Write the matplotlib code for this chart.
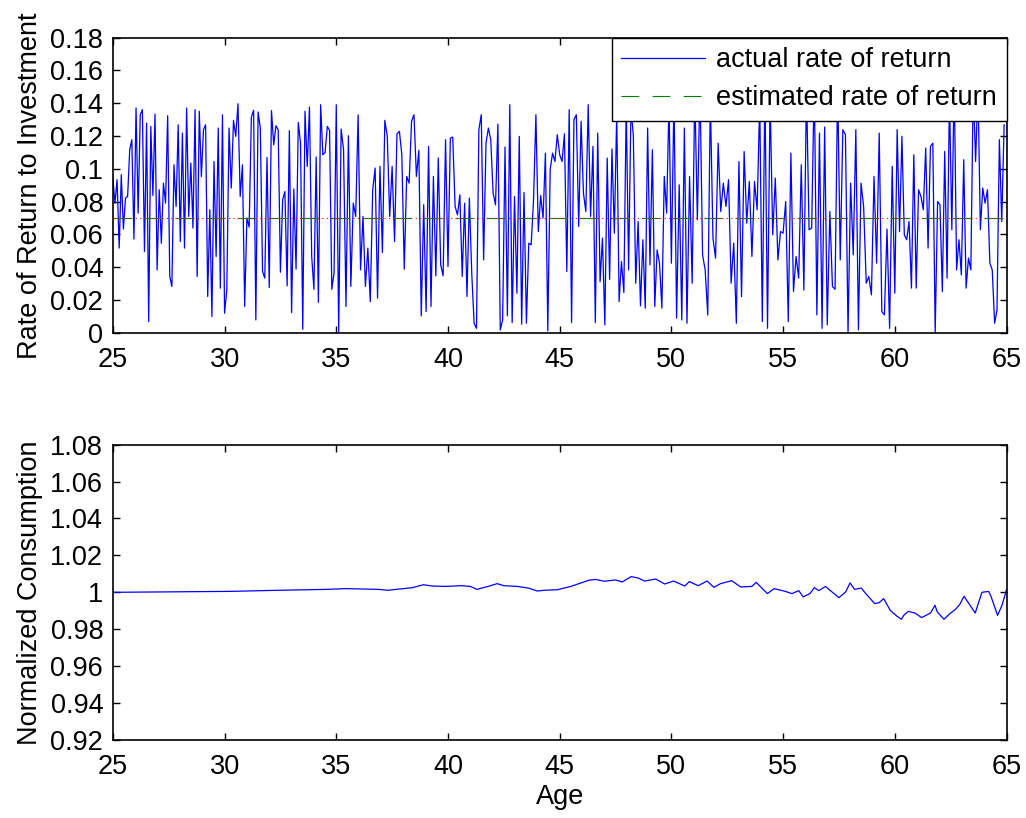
import numpy as np
import matplotlib
matplotlib.use("Agg")
import matplotlib.pyplot as plt
from matplotlib.ticker import FormatStrFormatter

plt.rcParams['font.family'] = ['Liberation Sans', 'DejaVu Sans']

# rate of return, one list per 5-year span
rate_25_30 = [0.0944, 0.0791, 0.0934, 0.0517, 0.0964, 0.0633, 0.0822, 0.0832, 0.1117, 0.1178,
              0.0572, 0.1371, 0.0730, 0.1330, 0.1361, 0.0496, 0.1279, 0.0069, 0.1259, 0.0838,
              0.1334, 0.0384, 0.0873, 0.0547, 0.0913, 0.0791, 0.1324, 0.0344, 0.0283, 0.1025,
              0.0771, 0.1269, 0.0557, 0.1218, 0.0517, 0.1371, 0.0710, 0.1035, 0.0639, 0.1361,
              0.0344, 0.1351, 0.0954, 0.1239, 0.1269, 0.0222, 0.0751, 0.0100, 0.1045, 0.0466,
              0.1249, 0.0273, 0.1330]
rate_30_35 = [0.0120, 0.0262, 0.1249, 0.0883, 0.1296, 0.1198, 0.1397, 0.0832, 0.1025, 0.0161,
              0.0700, 0.0645, 0.1316, 0.1357, 0.0079, 0.1347, 0.1249, 0.0374, 0.0334, 0.1070,
              0.0277, 0.1355, 0.1147, 0.1263, 0.1239, 0.0370, 0.0812, 0.0862, 0.0287, 0.1233,
              0.0124, 0.0877, 0.0389, 0.1283, 0.1157, 0.0022, 0.1351, 0.1015, 0.1377, 0.0466,
              0.0266, 0.1072, 0.0187, 0.1391, 0.1086, 0.1100, 0.1259, 0.1235, 0.0266, 0.0364]
rate_35_40 = [0.1391, 0.0008, 0.1243, 0.1117, 0.0161, 0.1202, 0.0283, 0.0791, 0.0710, 0.1330,
              0.0384, 0.0710, 0.0283, 0.0517, 0.0191, 0.0873, 0.1005, 0.0212, 0.1015, 0.0490,
              0.1296, 0.1198, 0.0710, 0.1015, 0.0557, 0.1214, 0.1229, 0.1086, 0.0389, 0.0954,
              0.0913, 0.1290, 0.1330, 0.0954, 0.1113, 0.0104, 0.0781, 0.0130, 0.1137, 0.0161,
              0.0954, 0.0348, 0.1066, 0.0415, 0.0348, 0.1178]
rate_40_45 = [0.0405, 0.1188, 0.1194, 0.0771, 0.0720, 0.0842, 0.0344, 0.0791, 0.0222, 0.0822,
              0.0364, 0.0059, 0.0028, 0.1239, 0.1330, 0.0445, 0.1157, 0.1249, 0.1178, 0.0852,
              0.0781, 0.1273, 0.0018, 0.0079, 0.1133, 0.0104, 0.1391, 0.0063, 0.0832, 0.0242,
              0.1198, 0.0053, 0.0856, 0.0059, 0.0547, 0.0537, 0.0812, 0.1330, 0.0618, 0.0838,
              0.0700, 0.1096, 0.0012, 0.0995, 0.1096, 0.1045, 0.1208]
rate_45_50 = [0.1086, 0.1045, 0.1214, 0.0374, 0.1361, 0.0063, 0.1300, 0.1330, 0.0649, 0.1290,
              0.0852, 0.0740, 0.1391, 0.0710, 0.1137, 0.0063, 0.1218, 0.0313, 0.0578, 0.0049,
              0.1066, 0.0327, 0.1121, 0.0608, 0.1340, 0.0191, 0.0435, 0.0246, 0.1400, 0.0384,
              0.1380, 0.1198, 0.0303, 0.0679, 0.0165, 0.0568, 0.0151, 0.1249, 0.0415, 0.1117,
              0.0161, 0.0506, 0.0425, 0.0151, 0.0954, 0.0730, 0.1420]
rate_50_55 = [0.0425, 0.1450, 0.0090, 0.0903, 0.0079, 0.1249, 0.0059, 0.0954, 0.0303, 0.1480,
              0.0690, 0.1520, 0.0476, 0.0384, 0.0110, 0.1430, 0.0578, 0.0456, 0.1157, 0.0740,
              0.0913, 0.0771, 0.0934, 0.0303, 0.0547, 0.0059, 0.1045, 0.0222, 0.1106, 0.0669,
              0.0923, 0.0466, 0.0923, 0.0751, 0.1410, 0.0069, 0.1500, 0.0028, 0.1440, 0.0598,
              0.0944, 0.0445, 0.0618]
rate_55_60 = [0.0608, 0.0801, 0.0069, 0.1096, 0.0252, 0.0466, 0.0334, 0.1025, 0.0262, 0.1500,
              0.0629, 0.0639, 0.1550, 0.0110, 0.1218, 0.0028, 0.1255, 0.0049, 0.0740, 0.0283,
              0.0266, 0.1520, 0.0445, 0.1239, 0.1208, 0.0002, 0.0913, 0.0476, 0.1239, 0.0018,
              0.0913, 0.0771, 0.0303, 0.0344, 0.0232, 0.0954, 0.0425, 0.1218, 0.0130, 0.0110,
              0.0633, 0.0028, 0.1015]
rate_60_65 = [0.0242, 0.1239, 0.0618, 0.1198, 0.0598, 0.0568, 0.0679, 0.0273, 0.1086, 0.0273,
              0.0873, 0.0832, 0.0751, 0.1127, 0.0517, 0.1137, 0.1157, 0.0002, 0.0801, 0.0781,
              0.0252, 0.1106, 0.0334, 0.1450, 0.0629, 0.1550, 0.0384, 0.0568, 0.0354, 0.1056,
              0.0273, 0.0456, 0.0384, 0.1500, 0.1045, 0.1500, 0.0629, 0.0883, 0.0791, 0.0873,
              0.0425, 0.0384, 0.0059, 0.0140, 0.1178, 0.0679, 0.1269]

rate_segments = [rate_25_30, rate_30_35, rate_35_40, rate_40_45,
                 rate_45_50, rate_50_55, rate_55_60, rate_60_65]
segment_starts = [25, 30, 35, 40, 45, 50, 55, 60]
segment_span = 5

estimated_rate = 0.07

# normalized consumption
cons_age = [25.0, 30.2, 32.4, 34.6, 35.4, 36.9, 37.3, 38.4, 38.9, 39.3, 39.9, 40.6, 41.0, 41.3,
            41.8, 42.2, 42.5, 43.1, 43.6, 44.0, 44.3, 44.9, 45.5, 46.3, 46.6, 47.0, 47.5, 47.8,
            48.2, 48.5, 48.8, 49.3, 49.7, 50.1, 50.6, 50.8, 51.2, 51.6, 51.9, 52.2, 52.7, 53.1,
            53.6, 53.8, 54.0, 54.3, 54.6, 55.1, 55.4, 55.7, 55.9, 56.2, 56.4, 56.6, 56.9, 57.1,
            57.5, 57.8, 58.0, 58.2, 58.5, 58.7, 59.1, 59.3, 59.5, 59.8, 60.1, 60.3, 60.4, 60.6,
            60.9, 61.2, 61.6, 61.8, 61.9, 62.2, 62.5, 62.7, 62.9, 63.1, 63.3, 63.6, 63.9, 64.2,
            64.3, 64.6, 64.8, 65.0]
cons_value = [1.0000, 1.0005, 1.0011, 1.0016, 1.0020, 1.0016, 1.0011, 1.0025, 1.0041, 1.0034,
              1.0032, 1.0036, 1.0032, 1.0016, 1.0032, 1.0047, 1.0036, 1.0032, 1.0023, 1.0007,
              1.0011, 1.0014, 1.0032, 1.0065, 1.0070, 1.0060, 1.0067, 1.0056, 1.0085, 1.0078,
              1.0061, 1.0072, 1.0045, 1.0061, 1.0034, 1.0058, 1.0036, 1.0061, 1.0027, 1.0047,
              1.0063, 1.0029, 1.0032, 1.0054, 1.0029, 0.9993, 1.0020, 1.0005, 0.9993, 1.0009,
              0.9975, 0.9993, 1.0025, 1.0009, 1.0032, 1.0011, 0.9971, 1.0002, 1.0051, 1.0016,
              1.0023, 0.9993, 0.9939, 0.9944, 0.9966, 0.9902, 0.9870, 0.9854, 0.9875, 0.9897,
              0.9888, 0.9863, 0.9888, 0.9930, 0.9894, 0.9854, 0.9888, 0.9906, 0.9933, 0.9978,
              0.9942, 0.9888, 1.0000, 1.0005, 0.9980, 0.9875, 0.9930, 1.0014]

# ages for the rate series: spread each segment evenly over its span
rate_age = []
rate_value = []
for start, seg in zip(segment_starts, rate_segments):
  rate_age.extend(np.linspace(start, start + segment_span, len(seg), endpoint=False))
  rate_value.extend(seg)
rate_age = np.array(rate_age)
rate_value = np.array(rate_value)

fs = 19.5

fig = plt.figure(figsize=(10.26, 8.18), dpi=100)
ax1 = fig.add_axes([0.110, 0.593, 0.871, 0.361])
ax2 = fig.add_axes([0.110, 0.0954, 0.871, 0.361])

ax1.plot(rate_age, rate_value, '-', color='#0000FF', lw=0.9, label='actual rate of return')
ax1.plot([25, 65], [estimated_rate, estimated_rate], color='#008000', lw=0.8,
         dashes=(16, 12), label='estimated rate of return')
ax1.plot([25, 65], [estimated_rate, estimated_rate], color='#FF0000', lw=0.8,
         dashes=(1, 3), zorder=3)
ax1.set_xlim(25, 65)
ax1.set_ylim(0, 0.18)
ax1.set_xticks(np.arange(25, 66, 5))
ax1.set_yticks(np.arange(0, 0.181, 0.02))
ax1.yaxis.set_major_formatter(FormatStrFormatter('%g'))
ax1.set_ylabel('Rate of Return to Investment', fontsize=fs, labelpad=5)
leg = ax1.legend(loc='upper right', fontsize=fs, fancybox=False, framealpha=1,
                 edgecolor='black', borderaxespad=0, handlelength=3.1, borderpad=0.35,
                 labelspacing=0.45, handletextpad=0.4)
leg.get_frame().set_linewidth(1.0)
leg.set_zorder(10)

ax2.plot(cons_age, cons_value, '-', color='#0000FF', lw=0.9)
ax2.set_xlim(25, 65)
ax2.set_ylim(0.92, 1.08)
ax2.set_xticks(np.arange(25, 66, 5))
ax2.set_yticks(np.arange(0.92, 1.081, 0.02))
ax2.yaxis.set_major_formatter(FormatStrFormatter('%g'))
ax2.set_ylabel('Normalized Consumption', fontsize=fs, labelpad=5)
ax2.set_xlabel('Age', fontsize=fs, labelpad=3)

for ax in (ax1, ax2):
  ax.tick_params(direction='in', top=True, right=True, labelsize=fs, length=5, width=1)
  ax.tick_params(axis='x', pad=10)
  ax.tick_params(axis='y', pad=7)
  for s in ax.spines.values():
    s.set_linewidth(1.2)

plt.savefig('out.png', dpi=100)
